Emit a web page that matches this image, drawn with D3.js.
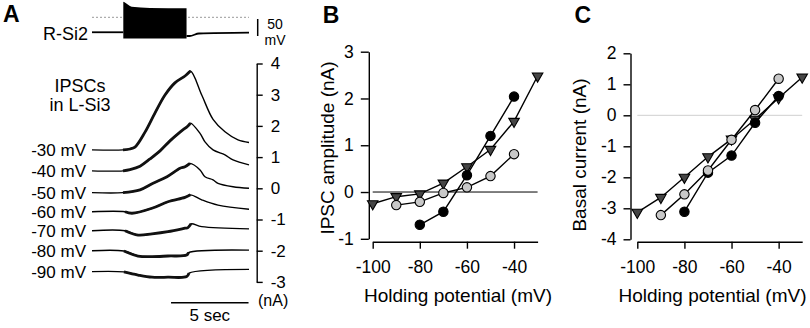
<!DOCTYPE html>
<html>
<head>
<meta charset="utf-8">
<script src="https://cdn.jsdelivr.net/npm/d3@7"></script>
<style>
  body { margin: 0; background: #fff; }
  svg text { font-family: "Liberation Sans", Arial, sans-serif; fill: #000; }
</style>
</head>
<body>
<div id="container"></div>
<script>
// ---- panel A data: time (s) and current (nA) / voltage (mV) ----
const holding = [-30, -40, -50, -60, -70, -80, -90];

const traceM30 = [[0,1.23],[2.0,1.23],[2.45,1.26],[2.77,1.32],[3.42,1.80],[4.06,2.41],[4.71,2.99],[5.35,3.38],[6.0,3.60],[6.35,3.76],[7.08,2.99],[7.81,2.21],[8.58,1.81],[9.42,1.55],[10.13,1.47]];
const traceM40 = [[0,0.56],[2.0,0.56],[2.45,0.60],[3.1,0.71],[3.74,0.94],[4.39,1.20],[5.03,1.52],[5.68,1.80],[6.19,2.0],[6.35,2.09],[6.97,1.76],[7.29,1.49],[7.81,1.23],[8.58,1.07],[9.10,0.91],[10.13,0.75]];
const traceM50 = [[0,-0.14],[2.0,-0.14],[3.1,-0.05],[3.94,0.16],[4.84,0.37],[5.68,0.64],[6.0,0.69],[6.32,0.80],[6.97,0.59],[7.29,0.37],[7.81,0.27],[8.13,0.16],[9.10,0.05],[10.13,0.0]];
const traceM60 = [[0,-0.75],[2.13,-0.75],[2.58,-0.80],[3.87,-0.64],[4.90,-0.43],[6.0,-0.29],[6.35,-0.21],[7.08,-0.37],[8.13,-0.54],[10.13,-0.67]];
const traceM70 = [[0,-1.36],[2.13,-1.36],[2.97,-1.50],[3.87,-1.46],[4.90,-1.39],[6.0,-1.28],[6.19,-1.26],[6.39,-1.14],[7.08,-1.23],[10.13,-1.30]];
const traceM80 = [[0,-2.0],[2.06,-2.01],[2.97,-2.17],[3.87,-2.19],[4.90,-2.17],[6.11,-2.14],[6.23,-2.06],[10.13,-1.98]];
const traceM90 = [[0,-2.67],[2.06,-2.68],[2.97,-2.78],[3.87,-2.85],[4.90,-2.85],[6.11,-2.83],[6.26,-2.72],[10.13,-2.60]];
const traces = [traceM30, traceM40, traceM50, traceM60, traceM70, traceM80, traceM90];

const stim = [2.0, 6.4];
const currentTicks = [-3, -2, -1, 0, 1, 2, 3, 4];

// presynaptic R-Si2 voltage
const preBefore = [[0,-44],[2.02,-44]];
const burstEnvelope = [[2.02,46,-62],[2.1,44,-62],[2.56,31,-62],[3.74,27.5,-62],[6.1,26.5,-62]];
const preAfter = [[6.1,-55],[6.3,-55],[6.9,-47.6],[10.13,-45.3]];

// ---- panel B: IPSC amplitude (nA) vs holding potential (mV) ----
const bBlack = [[-80,-0.7],[-70,-0.42],[-60,0.36],[-50,1.2],[-40,2.04]];
const bGray = [[-90,-0.28],[-80,-0.21],[-70,-0.02],[-60,0.1],[-50,0.34],[-40,0.81]];
const bTri = [[-100,-0.25],[-90,-0.1],[-80,-0.04],[-70,0.19],[-60,0.54],[-50,0.91],[-40,1.51],[-30,2.48]];
const bTicks = [-1, 0, 1, 2, 3];

// ---- panel C: basal current (nA) vs holding potential (mV) ----
const cTri = [[-100,-3.13],[-90,-2.65],[-80,-2.0],[-70,-1.34],[-60,-0.77],[-50,-0.13],[-40,0.56],[-30,1.23]];
const cBlack = [[-80,-3.11],[-70,-1.85],[-60,-1.3],[-50,-0.24],[-40,0.62]];
const cGray = [[-90,-3.22],[-80,-2.55],[-70,-1.78],[-60,-0.79],[-50,0.17],[-40,1.18]];
const cTicks = [-4, -3, -2, -1, 0, 1, 2];

const xTicks = [-100, -80, -60, -40];

const svg = d3.select("#container").append("svg")
    .attr("width", 810)
    .attr("height", 328);

const fmt = d => String(d);

const styleAxis = (g, size) => {
    g.selectAll("path.domain").attr("stroke", "#000").attr("stroke-width", 1.4);
    g.selectAll(".tick line").attr("stroke", "#000").attr("stroke-width", 1.4);
    g.selectAll(".tick text")
        .attr("font-family", "Liberation Sans, Arial, sans-serif")
        .attr("font-size", size);
    g.attr("font-size", null).attr("font-family", null);
};

// panel letters
[["A", 3, 21.7], ["B", 322.7, 22.7], ["C", 574.5, 22.7]].forEach(([t, x, y]) => {
    svg.append("text").attr("x", x).attr("y", y)
        .style("font-size", "23px").style("font-weight", "bold").text(t);
});

// ================= Panel A =================
const tx = d3.scaleLinear().domain([0, 10.13]).range([92, 249]);
const yA = d3.scaleLinear().domain([-3, 4]).range([281.9, 63.5]);
const yV = d3.scaleLinear().domain([0, 50]).range([17.3, 0.3]);

// 0 mV dotted reference
svg.append("line")
    .attr("x1", tx(0)).attr("x2", tx(10.13))
    .attr("y1", yV(0)).attr("y2", yV(0))
    .attr("stroke", "#999").attr("stroke-width", 1)
    .attr("stroke-dasharray", "2,2");

const vLine = d3.line().x(d => tx(d[0])).y(d => yV(d[1]));
svg.append("path").datum(preBefore).attr("d", vLine)
    .attr("fill", "none").attr("stroke", "#000").attr("stroke-width", 1.8);
svg.append("path").datum(preAfter).attr("d", vLine.curve(d3.curveMonotoneX))
    .attr("fill", "none").attr("stroke", "#000").attr("stroke-width", 1.8);
svg.append("path").datum(burstEnvelope)
    .attr("d", d3.area().x(d => tx(d[0])).y0(d => yV(d[2])).y1(d => yV(d[1])).curve(d3.curveMonotoneX))
    .attr("fill", "#000");

svg.append("text").attr("x", 88).attr("y", 39.5).attr("text-anchor", "end")
    .style("font-size", "18px").text("R-Si2");

// 50 mV scale bar
svg.append("line")
    .attr("x1", 257.7).attr("x2", 257.7)
    .attr("y1", yV(-55)).attr("y2", yV(-5))
    .attr("stroke", "#000").attr("stroke-width", 1.5);
svg.append("text").attr("x", 275).attr("y", 28.5).attr("text-anchor", "middle")
    .style("font-size", "14px").text("50");
svg.append("text").attr("x", 275).attr("y", 44.5).attr("text-anchor", "middle")
    .style("font-size", "14px").text("mV");

svg.append("text").attr("x", 80).attr("y", 92).attr("text-anchor", "middle")
    .style("font-size", "18px").text("IPSCs");
svg.append("text").attr("x", 80).attr("y", 111).attr("text-anchor", "middle")
    .style("font-size", "18px").text("in L-Si3");

const iLine = d3.line().x(d => tx(d[0])).y(d => yA(d[1])).curve(d3.curveCatmullRom.alpha(0.5));
traces.forEach((tr, i) => {
    svg.append("path").datum(tr).attr("d", iLine)
        .attr("fill", "none").attr("stroke", "#000").attr("stroke-width", 1.4)
        .attr("stroke-linejoin", "round");
    // noisy part during the presynaptic burst
    const noisy = tr.filter(d => d[0] >= stim[0] && d[0] <= stim[1]);
    svg.append("path").datum(noisy).attr("d", iLine)
        .attr("fill", "none").attr("stroke", "#111").attr("stroke-width", 2.8)
        .attr("stroke-linejoin", "round");
    svg.append("text")
        .attr("x", 86).attr("y", yA(tr[0][1]))
        .attr("dy", "0.35em").attr("text-anchor", "end")
        .style("font-size", "17px")
        .text(`${holding[i]} mV`);
});

const gA = svg.append("g").attr("transform", "translate(256.7,0)")
    .call(d3.axisRight(yA).tickValues(currentTicks).tickFormat(fmt)
        .tickSize(6).tickSizeOuter(0).tickPadding(8));
styleAxis(gA, "17px");

svg.append("text").attr("x", 258).attr("y", 306).style("font-size", "16px").text("(nA)");

// 5 sec bar
svg.append("line")
    .attr("x1", tx(10.1 - 5)).attr("x2", tx(10.1))
    .attr("y1", 302.7).attr("y2", 302.7)
    .attr("stroke", "#000").attr("stroke-width", 1.5);
svg.append("text").attr("x", tx(10.1 - 2.5)).attr("y", 321).attr("text-anchor", "middle")
    .style("font-size", "17px").text("5 sec");

// ================= scatter panels =================
const triangle = d3.symbol().type(d3.symbolTriangle).size(48);

const drawPanel = (opts) => {
    const { x, y, yAxisX, yTicks, zeroColor, series, yTitle, titleX, titleY, xTitleX, ySize } = opts;

    svg.append("line")
        .attr("x1", x(-100)).attr("x2", x(-30))
        .attr("y1", y(0)).attr("y2", y(0))
        .attr("stroke", zeroColor).attr("stroke-width", 1);

    const gy = svg.append("g").attr("transform", `translate(${yAxisX},0)`)
        .call(d3.axisLeft(y).tickValues(yTicks).tickFormat(fmt)
            .tickSize(ySize).tickSizeOuter(0).tickPadding(7));
    styleAxis(gy, "17.5px");

    const gx = svg.append("g").attr("transform", "translate(0,241.7)")
        .call(d3.axisBottom(x).tickValues(xTicks).tickFormat(fmt)
            .tickSize(7).tickSizeOuter(0).tickPadding(12));
    styleAxis(gx, "17.5px");

    const line = d3.line().x(d => x(d[0])).y(d => y(d[1]));
    series.forEach(s => {
        svg.append("path").datum(s.data).attr("d", line)
            .attr("fill", "none").attr("stroke", "#000").attr("stroke-width", 1.4);
        if (s.shape === "tri") {
            svg.append("g").selectAll("path").data(s.data).join("path")
                .attr("d", triangle)
                .attr("transform", d => `translate(${x(d[0])},${y(d[1])}) rotate(180)`)
                .attr("fill", s.fill).attr("stroke", "#000").attr("stroke-width", 1.1);
        } else {
            svg.append("g").selectAll("circle").data(s.data).join("circle")
                .attr("cx", d => x(d[0])).attr("cy", d => y(d[1]))
                .attr("r", 4.7)
                .attr("fill", s.fill).attr("stroke", "#000").attr("stroke-width", 1.1);
        }
    });

    svg.append("text")
        .attr("transform", `translate(${titleX},${titleY}) rotate(-90)`)
        .attr("text-anchor", "middle").style("font-size", "19px").text(yTitle);
    svg.append("text")
        .attr("x", xTitleX).attr("y", 301.7).attr("text-anchor", "middle")
        .style("font-size", "19px").text("Holding potential (mV)");
};

const xB = d3.scaleLinear().domain([-100, -30]).range([372.7, 537.6]);
const yB = d3.scaleLinear().domain([-1, 3]).range([238.8, 51.7]);
drawPanel({
    x: xB, y: yB, yAxisX: 368.8, yTicks: bTicks, zeroColor: "#000", ySize: 8,
    series: [
        { data: bTri, shape: "tri", fill: "#454545" },
        { data: bBlack, shape: "circle", fill: "#000" },
        { data: bGray, shape: "circle", fill: "#c8c8c8" }
    ],
    yTitle: "IPSC amplitude (nA)", titleX: 334, titleY: 148, xTitleX: 458
});

const xC = d3.scaleLinear().domain([-100, -30]).range([637.3, 802.2]);
const yC = d3.scaleLinear().domain([-4, 2]).range([239.3, 53.3]);
drawPanel({
    x: xC, y: yC, yAxisX: 630.5, yTicks: cTicks, zeroColor: "#cfcfcf", ySize: 7,
    series: [
        { data: cTri, shape: "tri", fill: "#454545" },
        { data: cBlack, shape: "circle", fill: "#000" },
        { data: cGray, shape: "circle", fill: "#c8c8c8" }
    ],
    yTitle: "Basal current (nA)", titleX: 586, titleY: 155, xTitleX: 712.5
});
</script>
</body>
</html>
